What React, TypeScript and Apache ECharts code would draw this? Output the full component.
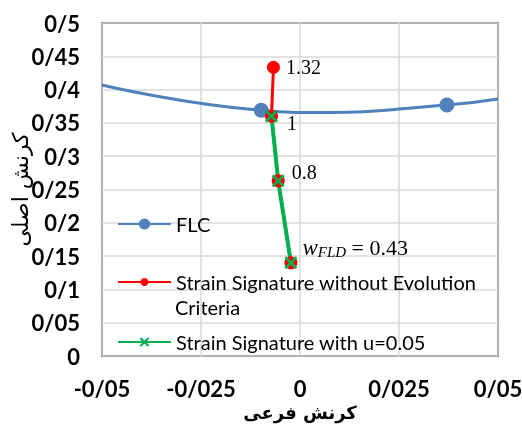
import React, { useEffect, useRef } from "react";
import * as echarts from "echarts";

// FLC curve (points without markers are curve-shape points)
const flcPoints: [number, number, boolean][] = [
  [-0.05, 0.407, false],
  [-0.0098, 0.369, true],
  [0.005, 0.3655, false],
  [0.0371, 0.377, true],
  [0.05, 0.386, false],
];

// Strain signature without evolution criteria
const redX = [-0.0067, -0.0072, -0.0055, -0.0023];
const redY = [0.4335, 0.36, 0.263, 0.14];

// Strain signature with u=0.05
const greenX = [-0.0072, -0.0055, -0.0023];
const greenY = [0.36, 0.263, 0.14];

const xTicks = { min: -0.05, max: 0.05, interval: 0.025 };
const yTicks = { min: 0, max: 0.5, interval: 0.05 };

const fmt = (v: number) => {
  const s = String(+v.toFixed(4));
  return s.replace(".", "/");
};

const X_SHAPE =
  "path://M0,1.5 L1.5,0 L5,3.5 L8.5,0 L10,1.5 L6.5,5 L10,8.5 L8.5,10 L5,6.5 L1.5,10 L0,8.5 L3.5,5 Z";

export default function App() {
  const ref = useRef<HTMLDivElement>(null);
  useEffect(() => {
    if (!ref.current) return;
    const chart = echarts.init(ref.current, undefined, { renderer: "svg" });

    const labelFont = {
      fontFamily: "Liberation Serif",
      fontSize: 20,
      color: "#000",
    };
    const labelCfg: any[] = [
      { ...labelFont, show: true, formatter: "1.32", position: "right", distance: 6 },
      { ...labelFont, show: true, formatter: "1", position: "right", distance: 9, offset: [0, 7] },
      { ...labelFont, show: true, formatter: "0.8", position: "right", distance: 7, offset: [0, -9] },
      {
        show: true,
        position: "right",
        distance: 5,
        offset: [0, -15],
        formatter: "{w|w}{s|FLD}{n| = 0.43}",
        rich: {
          w: { fontFamily: "Liberation Serif", fontStyle: "italic", fontSize: 23, color: "#000" },
          s: {
            fontFamily: "Liberation Serif",
            fontStyle: "italic",
            fontSize: 15,
            color: "#000",
            padding: [8, 0, 0, 0],
          },
          n: { fontFamily: "Liberation Serif", fontSize: 22, color: "#000" },
        },
      },
    ];

    const legendText = { fontFamily: "Lato", fontSize: 20, color: "#000", lineHeight: 22 };

    chart.setOption({
      animation: false,
      grid: {
        left: 102,
        right: 24,
        top: 23,
        bottom: 77,
        show: true,
        borderColor: "#000",
        borderWidth: 1.5,
        containLabel: false,
        outerBoundsMode: "none",
      },
      xAxis: {
        type: "value",
        min: xTicks.min,
        max: xTicks.max,
        interval: xTicks.interval,
        name: "کرنش فرعی",
        nameLocation: "middle",
        nameGap: 44,
        nameTextStyle: { fontFamily: "DejaVu Sans", fontSize: 18, fontWeight: "bold", color: "#000" },
        axisLine: { show: false },
        axisTick: { show: false },
        axisLabel: {
          formatter: fmt,
          fontFamily: "Lato",
          fontWeight: "bold",
          fontSize: 22,
          color: "#000",
          margin: 21,
        },
        splitLine: { show: true, lineStyle: { color: "#D9D9D9", width: 1.5 } },
      },
      yAxis: {
        type: "value",
        min: yTicks.min,
        max: yTicks.max,
        interval: yTicks.interval,
        name: "کرنش اصلی",
        nameLocation: "middle",
        nameGap: 71,
        nameMoveOverlap: false,
        nameTextStyle: { fontFamily: "DejaVu Sans", fontSize: 22, color: "#000" },
        axisLine: { show: false },
        axisTick: { show: false },
        axisLabel: {
          formatter: fmt,
          fontFamily: "Lato",
          fontWeight: "bold",
          fontSize: 22,
          color: "#000",
          margin: 22,
        },
        splitLine: { show: true, lineStyle: { color: "#D9D9D9", width: 1.5 } },
      },
      legend: [
        {
          data: ["FLC"],
          left: 117,
          top: 213,
          orient: "vertical",
          padding: 0,
          itemWidth: 53,
          itemHeight: 14,
          textStyle: legendText,
        },
        {
          data: ["Strain Signature without Evolution"],
          left: 117,
          top: 271,
          orient: "vertical",
          padding: 0,
          itemWidth: 53,
          itemHeight: 10,
          textStyle: legendText,
        },
        {
          data: ["Strain Signature with u=0.05"],
          left: 117,
          top: 331,
          orient: "vertical",
          padding: 0,
          itemWidth: 53,
          itemHeight: 12,
          textStyle: legendText,
        },
      ],
      graphic: [
        {
          type: "text",
          left: 175,
          top: 297,
          style: { text: "Criteria", font: "20px Lato", fill: "#000" },
        },
      ],
      series: [
        {
          name: "FLC",
          type: "line",
          smooth: 0.5,
          data: flcPoints.map(([x, y, m]) => ({
            value: [x, y],
            symbol: m ? "circle" : "none",
          })),
          symbol: "circle",
          symbolSize: 15,
          lineStyle: { color: "#4F81BD", width: 3 },
          itemStyle: { color: "#4F81BD" },
        },
        {
          name: "Strain Signature without Evolution",
          type: "line",
          data: redX.map((x, i) => ({
            value: [x, redY[i]],
            label: labelCfg[i],
          })),
          symbol: "circle",
          symbolSize: 13,
          lineStyle: { color: "#FF0000", width: 3 },
          itemStyle: { color: "#FF0000" },
        },
        {
          name: "Strain Signature with u=0.05",
          type: "line",
          data: greenX.map((x, i) => [x, greenY[i]]),
          symbol: X_SHAPE,
          symbolSize: 13,
          lineStyle: { color: "#00B050", width: 4 },
          itemStyle: { color: "#00B050" },
        },
      ],
    });
    return () => chart.dispose();
  }, []);
  return (
    <div
      ref={ref}
      style={{ position: "fixed", left: 0, top: 0, width: 522, height: 433 }}
    />
  );
}
